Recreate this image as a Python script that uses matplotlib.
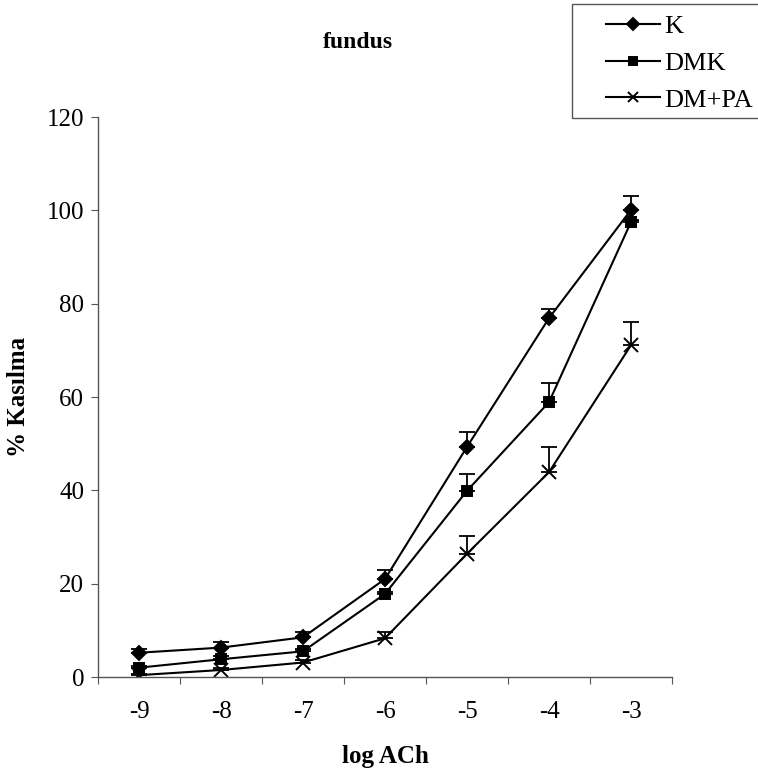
import numpy as np
import matplotlib.pyplot as plt
from matplotlib.patches import Rectangle

plt.rcParams['font.family'] = ['Liberation Serif', 'DejaVu Serif']

log_ach = ['-9', '-8', '-7', '-6', '-5', '-4', '-3']

k_vals = [5.2, 6.3, 8.5, 21.0, 49.3, 76.9, 100.1]
k_err = [0.7, 1.3, 1.2, 2.0, 3.3, 2.0, 2.9]

dmk_vals = [2.0, 3.8, 5.5, 17.8, 39.9, 58.9, 97.5]
dmk_err = [0.3, 0.6, 0.5, 0.5, 3.6, 4.1, 0.4]

dmpa_vals = [0.4, 1.5, 3.1, 8.3, 26.4, 43.9, 71.1]
dmpa_err = [0.3, 0.4, 0.5, 1.4, 3.9, 5.4, 4.9]

fig = plt.figure(figsize=(7.58, 7.74), dpi=100)
ax = fig.add_axes([98/758, 1-677/774, (672-98)/758, (677-117)/774])

x = np.arange(len(log_ach))

series = [
    (k_vals, k_err, 'D', 7.5, 'K'),
    (dmk_vals, dmk_err, 's', 7, 'DMK'),
    (dmpa_vals, dmpa_err, 'x', 9.5, 'DM+PA'),
]
handles = []
for vals, err, mk, ms, name in series:
    ax.errorbar(x, vals, yerr=[np.zeros(len(err)), err], fmt='none',
                ecolor='black', elinewidth=1.3, capsize=5.8, capthick=1.3)
    h, = ax.plot(x, vals, color='black', lw=1.5, marker=mk, ms=ms,
                 mec='black', mfc='black', mew=1.4, label=name)
    handles.append(h)

ax.set_xlim(-0.5, 6.5)
ax.set_ylim(0, 120)
ax.set_yticks(np.arange(0, 121, 20))
ax.set_xticks(np.arange(-0.5, 7, 1))
ax.set_xticklabels([])
ax.set_xticks(x, minor=True)
ax.set_xticklabels(log_ach, minor=True)
ax.tick_params(axis='x', which='minor', length=0, pad=17, labelsize=18)
ax.tick_params(axis='x', which='major', direction='out', length=5, color='#555555')
ax.tick_params(axis='y', direction='out', length=5, labelsize=18, pad=5, color='#555555')
for s in ['top', 'right']:
    ax.spines[s].set_visible(False)
for s in ['left', 'bottom']:
    ax.spines[s].set_color('#555555')
    ax.spines[s].set_linewidth(1.0)

ax.set_xlabel('log ACh', fontsize=18, fontweight='bold', labelpad=16)
ax.set_ylabel('% Kasılma', fontsize=18, fontweight='bold', labelpad=12)
fig.text(358/758, 1-42/774, 'fundus', ha='center', va='center',
         fontsize=17, fontweight='bold')

fig.patches.append(Rectangle((572/758, 1-118/774), 200/758, 114/774,
                             transform=fig.transFigure, fill=False,
                             edgecolor='#555555', lw=1.0))
fig.legend(handles=handles, loc='upper left', bbox_to_anchor=(598/758, 1-7/774),
           frameon=False, fontsize=19, handlelength=2.05, handletextpad=0.15,
           labelspacing=0.5, numpoints=1, borderpad=0.3, borderaxespad=0,
           markerscale=0.75)

plt.savefig('out.png', dpi=100)
